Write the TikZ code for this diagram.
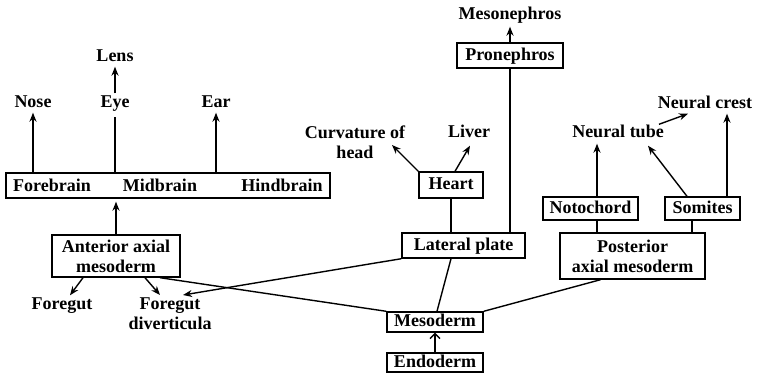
\documentclass[tikz,border=0pt]{standalone}
\usepackage{fontspec}
\setmainfont{Liberation Serif}
\usetikzlibrary{arrows.meta,calc}
\begin{document}
\begin{tikzpicture}[x=1pt,y=-1pt,
  every node/.style={font=\fontsize{18}{20}\selectfont\bfseries},
  lbl/.style={inner sep=2pt,text height=12pt,text depth=3pt},
  lbl2/.style={inner sep=2pt,align=center},
  box/.style={draw,line width=1.4pt,inner sep=0pt,text height=12pt,text depth=3pt},
  box2/.style={draw,line width=1.4pt,inner sep=0pt,align=center},
  ln/.style={line width=1.4pt},
  arr/.style={line width=1.4pt,-{Stealth[length=9pt,width=7pt]}},
  openarr/.style={line width=1.4pt,-{Straight Barb[length=5pt,width=10pt]}},
]
\useasboundingbox (0,0) rectangle (758,373);
% nodes
\node[lbl] (lens) at (115,57) {Lens};
\node[lbl] (nose) at (33,103) {Nose};
\node[lbl] (eye) at (115,103) {Eye};
\node[lbl] (ear) at (216,103) {Ear};
\node[box,minimum width=324pt,minimum height=25pt] (brain) at (168,185.5) {};
\node[lbl] (fore) at (52,187) {Forebrain};
\node[lbl] (mid) at (160,187) {Midbrain};
\node[lbl] (hind) at (282,187) {Hindbrain};
\node[box2,minimum width=128pt,minimum height=42pt] (ant) at (116,256) {Anterior axial\\mesoderm};
\node[lbl] (foregut) at (62,305) {Foregut};
\node[lbl2] (div) at (170,313.5) {Foregut\\diverticula};
\node[lbl] (mesoneph) at (510,15) {Mesonephros};
\node[box,minimum width=106pt,minimum height=25pt] (pron) at (510,55.5) {Pronephros};
\node[lbl2] (curv) at (355,142) {Curvature of\\head};
\node[lbl] (liver) at (469,133) {Liver};
\node[box,minimum width=64pt,minimum height=26pt] (heart) at (451,185) {Heart};
\node[box,minimum width=123pt,minimum height=25pt] (lat) at (463.5,245.5) {Lateral plate};
\node[lbl] (ncrest) at (705,104) {Neural crest};
\node[lbl] (ntube) at (618,133) {Neural tube};
\node[box,minimum width=95pt,minimum height=23pt] (noto) at (590.5,208.5) {Notochord};
\node[box,minimum width=75pt,minimum height=23pt] (som) at (702.5,208.5) {Somites};
\node[box2,minimum width=145pt,minimum height=46pt] (post) at (632.5,256) {Posterior\\axial mesoderm};
\node[box,minimum width=96pt,minimum height=20pt] (meso) at (435,322) {Mesoderm};
\node[box,minimum width=96pt,minimum height=19pt] (endo) at (435,362.5) {Endoderm};
\coordinate (divtipA) at (160,295);
\coordinate (divtipB) at (183,295);
\coordinate (curvtip) at (392,145);
% connectors
\draw[arr] (brain.north -| nose) -- (nose.south);
\draw[ln,shorten >=4pt] (brain.north -| eye) -- (eye.south);
\draw[arr] (eye.north) -- (lens.south);
\draw[arr] (brain.north -| ear) -- (ear.south);
\draw[arr,shorten >=3pt] (ant.north) -- (brain.south -| ant.north);
\draw[arr] ($(ant.south)+(-33,0)$) -- ($(foregut.north)+(8,0)$);
\draw[arr] ($(ant.south)+(29,0)$) -- (divtipA);
\draw[ln] ($(ant.south)+(44,0)$) -- (meso.north west);
\draw[arr] (lat.south west) -- (divtipB);
\draw[ln] (lat.south -| heart.south) -- ($(meso.north)+(2,0)$);
\draw[ln] (meso.north east) -- ($(post.south)+(-32,0)$);
\draw[openarr] (endo.north) -- (meso.south);
\draw[ln] (heart.south) -- (lat.north -| heart.south);
\draw[ln] (pron.south) -- (lat.north -| pron.south);
\draw[arr,shorten >=2pt] (pron.north) -- (mesoneph.south);
\draw[arr] (heart.north west) -- (curvtip);
\draw[arr] ($(heart.north)+(4,0)$) -- ($(liver.south)+(1,3)$);
\draw[arr] ($(noto.north)+(6.5,0)$) -- ($(ntube.south)+(-21,1)$);
\draw[arr] ($(som.north)+(-15.5,0)$) -- ($(ntube.south)+(30,3)$);
\draw[arr] ($(som.north)+(24.5,0)$) -- ($(ncrest.south)+(22,0)$);
\draw[arr] ($(ntube.north east)+(-7,1)$) -- ($(ncrest.south)+(-17,0)$);
\draw[ln] ($(noto.south)+(6.5,0)$) -- ($(post.north)+(-35.5,0)$);
\draw[ln] ($(som.south)+(-10.5,0)$) -- ($(post.north)+(59.5,0)$);
\end{tikzpicture}
\end{document}
